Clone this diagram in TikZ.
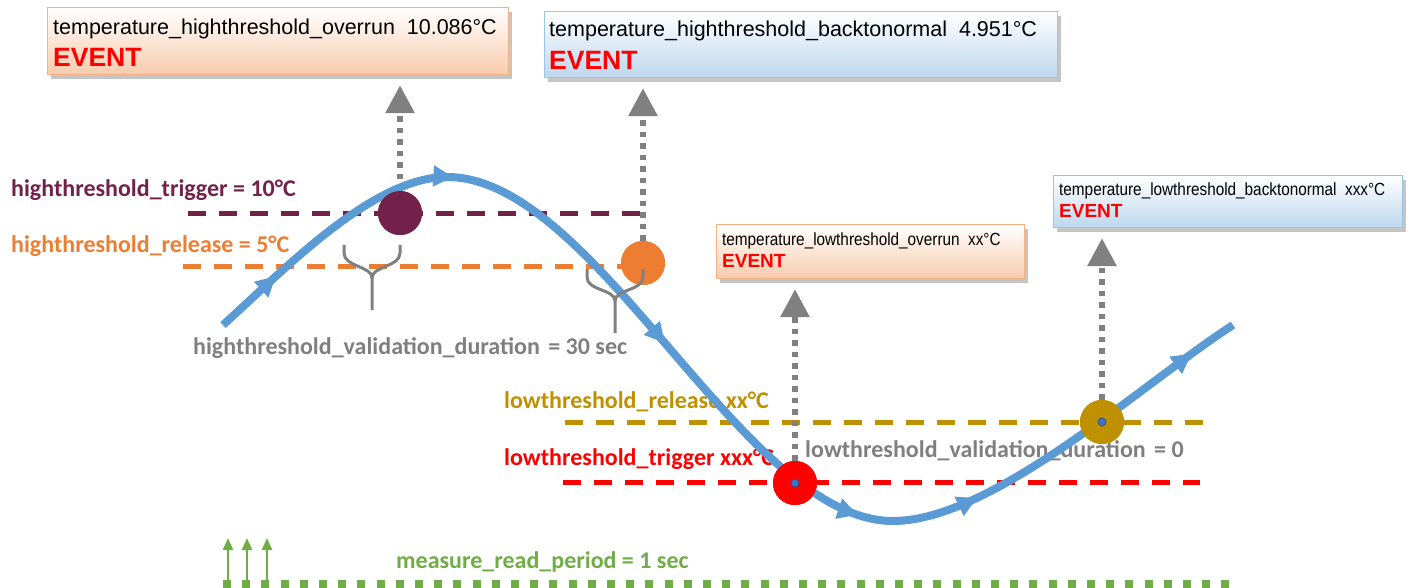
\documentclass[tikz,border=0pt]{standalone}
\usepackage{fontspec}
\setmainfont{Liberation Sans}
\newfontfamily\calibri{Carlito}
\newfontfamily\narrowsans[FakeStretch=0.87]{Liberation Sans}
\usetikzlibrary{arrows.meta,decorations.markings,shadows}

\definecolor{hotFill}{RGB}{248,203,173}
\definecolor{hotBorder}{RGB}{244,177,131}
\definecolor{coldFill}{RGB}{189,215,238}
\definecolor{coldBorder}{RGB}{157,195,230}
\definecolor{hiTrig}{RGB}{114,34,74}
\definecolor{hiRel}{RGB}{237,125,49}
\definecolor{loRel}{RGB}{191,144,0}
\definecolor{loTrig}{RGB}{255,0,0}
\definecolor{durGray}{RGB}{127,127,127}
\definecolor{curveBlue}{RGB}{91,155,213}
\definecolor{readGreen}{RGB}{112,173,71}
\definecolor{dotBlue}{RGB}{68,114,196}
\definecolor{dotEdge}{RGB}{47,82,143}

\begin{document}
\begin{tikzpicture}[x=1pt,y=-1pt,
  evbox/.style = {draw=#1Border, line width=1.2pt, top color=white, bottom color=#1Fill,
    inner sep=0pt, anchor=north west,
    drop shadow={shadow xshift=3pt,shadow yshift=-4pt,fill=black!45}},
  bigtxt/.style = {anchor=base west, inner sep=0pt, font=\fontsize{21.5}{26}\selectfont},
  bigevent/.style = {anchor=base west, inner sep=0pt, text=loTrig, font=\fontsize{26.5}{30}\selectfont\bfseries},
  smalltxt/.style = {anchor=base west, inner sep=0pt, font=\narrowsans\fontsize{17.6}{20}\selectfont},
  smallevent/.style = {anchor=base west, inner sep=0pt, text=loTrig, font=\fontsize{19}{22}\selectfont\bfseries},
  thrlabel/.style = {anchor=base west, inner sep=0pt, text=#1, font=\calibri\bfseries\fontsize{24}{28}\selectfont},
  threshold/.style = {draw=#1, line width=5pt, dash pattern=on 18pt off 13pt},
  marker/.style = {circle, fill=#1, minimum size=44pt, inner sep=0pt},
  bluedot/.style = {circle, fill=dotBlue, draw=dotEdge, line width=0.8pt, minimum size=8pt, inner sep=0pt},
  evarrow/.style = {draw=gray, line width=6pt, dash pattern=on 5.5pt off 6pt,
    -{Triangle[length=28pt,width=28pt]}, shorten >=10pt},
  brace/.style = {draw=gray, line width=3pt},
  readtick/.style = {draw=readGreen, line width=2.5pt, -{Triangle[length=12pt,width=10pt]}},
  readline/.style = {draw=readGreen, line width=9pt, dash pattern=on 8pt off 11.2pt},
  curve/.style = {draw=curveBlue, line width=8pt, postaction={decorate},
    decoration={markings,
      mark=at position 72pt with {\arrow{Triangle[length=20pt,width=20pt]}},
      mark=at position 280pt with {\arrow{Triangle[length=20pt,width=20pt]}},
      mark=at position 555pt with {\arrow{Triangle[length=20pt,width=20pt]}},
      mark=at position 816pt with {\arrow{Triangle[length=20pt,width=20pt]}},
      mark=at position 940pt with {\arrow{Triangle[length=20pt,width=20pt]}},
      mark=at position 1199pt with {\arrow{Triangle[length=20pt,width=20pt]}}}}
  ]
  \useasboundingbox (0,0) rectangle (1411,588);

  % event boxes
  \node[evbox=hot, minimum width=461pt, minimum height=67pt] (hoOver) at (47,7) {};
  \node[bigtxt] (hoOverT) at ([shift={(6,28)}]hoOver.north west) {temperature\_highthreshold\_overrun\ \ 10.086°C};
  \node[bigevent] (hoOverE) at ([shift={(6,60)}]hoOver.north west) {EVENT};
  \node[evbox=cold, minimum width=513pt, minimum height=66pt] (hoBack) at (544,11) {};
  \node[bigtxt] (hoBackT) at ([shift={(5,26)}]hoBack.north west) {temperature\_highthreshold\_backtonormal\ \ 4.951°C};
  \node[bigevent] (hoBackE) at ([shift={(5,59)}]hoBack.north west) {EVENT};
  \node[evbox=hot, minimum width=308pt, minimum height=54pt] (loOver) at (716,224) {};
  \node[smalltxt] (loOverT) at ([shift={(6,21)}]loOver.north west) {temperature\_lowthreshold\_overrun\ \ xx°C};
  \node[smallevent] (loOverE) at ([shift={(6,44)}]loOver.north west) {EVENT};
  \node[evbox=cold, minimum width=349pt, minimum height=52pt] (loBack) at (1053,175) {};
  \node[smalltxt] (loBackT) at ([shift={(6,21)}]loBack.north west) {temperature\_lowthreshold\_backtonormal\ \ xxx°C};
  \node[smallevent] (loBackE) at ([shift={(6,43)}]loBack.north west) {EVENT};

  % threshold labels
  \node[thrlabel=hiTrig] (hiTrigL) at (11,197) {highthreshold\_trigger = 10°C};
  \node[thrlabel=hiRel] (hiRelL) at (11,253) {highthreshold\_release = 5°C};
  \node[thrlabel=durGray] (hiDurL) at (193,354) {highthreshold\_validation\_duration\hspace{3pt} = 30 sec};
  \node[thrlabel=loRel] (loRelL) at (504,408) {lowthreshold\_release xx°C};
  \node[thrlabel=loTrig] (loTrigL) at (504,465) {lowthreshold\_trigger xxx°C};
  \node[thrlabel=durGray] (loDurL) at (805,457) {lowthreshold\_validation\_duration\hspace{3pt} = 0};
  \node[thrlabel=readGreen] (readL) at (396,568) {measure\_read\_period = 1 sec};

  % threshold lines
  \draw[threshold=hiTrig] (188,214) -- (642,214);
  \draw[threshold=hiRel] (183,266) -- (643,266);
  \draw[threshold=loRel] (565,422) -- (1205,422);
  \draw[threshold=loTrig] (563,482) -- (1200,482);

  % crossing points
  \node[marker=hiTrig] (hiTrig) at (400,213) {};
  \node[marker=hiRel] (hiRel) at (643,263) {};
  \node[marker=loTrig] (loTrig) at (795,483) {};
  \node[marker=loRel] (loRel) at (1102,422) {};

  % events raised
  \draw[evarrow] (hiTrig) -- (hiTrig |- hoOver.south);
  \draw[evarrow] (hiRel) -- (hiRel |- hoBack.south);
  \draw[evarrow] (loTrig) -- (loTrig |- loOver.south);
  \draw[evarrow] (loRel) -- (loRel |- loBack.south);

  % temperature
  \draw[curve] (223,325) .. controls (283,271) and (372,177) .. (447,177)
    .. controls (597,177) and (743,521) .. (893,521)
    .. controls (993,521) and (1143,383) .. (1233,325);

  \node[marker=hiTrig] at (hiTrig) {};
  \node[marker=hiRel] at (hiRel) {};
  \node[marker=loTrig] at (loTrig) {};
  \node[marker=loRel] at (loRel) {};
  \node[bluedot] (loTrigD) at (loTrig) {};
  \node[bluedot] (loRelD) at (loRel) {};

  % validation durations
  \foreach \l/\r/\t/\j/\b in {344/400/245/278/310, 587/643/269/301/333} {
    \draw[brace] (\l,\t) -- ++(0,8) .. controls +(0,14) and +(0,-12) .. ({(\l+\r)/2},\j) -- ({(\l+\r)/2},\b);
    \draw[brace] (\r,\t) -- ++(0,8) .. controls +(0,14) and +(0,-12) .. ({(\l+\r)/2},\j);
  }

  % measure read period
  \coordinate (rdA) at (223,584);
  \coordinate (rdB) at (1232,584);
  \draw[readline] (rdA) -- (rdB);
  \foreach \x [count=\i] in {228,247,267} {
    \coordinate (tk\i) at (\x,588);
    \coordinate (tt\i) at (\x,538);
    \draw[readtick] (tk\i) -- (tt\i);
  }
\end{tikzpicture}
\end{document}
